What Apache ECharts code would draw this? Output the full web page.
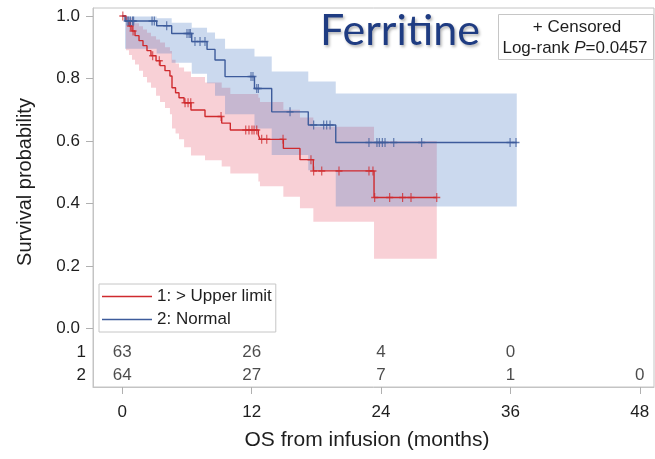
<!DOCTYPE html>
<html>
<head>
<meta charset="utf-8">
<script src="https://cdn.jsdelivr.net/npm/echarts@6/dist/echarts.min.js"></script>
<style>
  html, body { margin: 0; padding: 0; background: #fff; }
  #chart { width: 655px; height: 459px; }
</style>
</head>
<body>
<div id="chart"></div>
<script>
// Kaplan-Meier overall survival by ferritin group (time in months)

// Group 1: ferritin > upper limit — event times and survival after each step
const redT  = [0, 0.34, 0.62, 0.90, 1.18, 1.55, 1.92, 2.29, 2.66, 3.13, 3.50, 3.96, 4.42, 4.61, 4.94, 5.26, 5.73, 6.37, 7.67, 9.22, 10.02, 12.62, 12.77, 14.94, 16.48, 17.72, 23.35];
const redS  = [1, 0.984, 0.968, 0.952, 0.937, 0.921, 0.905, 0.889, 0.873, 0.857, 0.841, 0.825, 0.808, 0.770, 0.754, 0.738, 0.722, 0.699, 0.678, 0.657, 0.635, 0.619, 0.605, 0.576, 0.540, 0.504, 0.419];
const redLo = [1, 0.890, 0.875, 0.860, 0.845, 0.825, 0.805, 0.787, 0.770, 0.745, 0.725, 0.705, 0.685, 0.640, 0.624, 0.605, 0.580, 0.553, 0.538, 0.518, 0.496, 0.470, 0.455, 0.421, 0.384, 0.341, 0.223];
const redHi = [1, 0.998, 0.993, 0.985, 0.977, 0.967, 0.957, 0.946, 0.935, 0.925, 0.915, 0.900, 0.888, 0.860, 0.848, 0.835, 0.822, 0.805, 0.787, 0.770, 0.750, 0.738, 0.725, 0.700, 0.675, 0.645, 0.600];
const redEnd = 29.17;
const redCensored = [0.05, 0.75, 1.0, 2.82, 3.43, 5.82, 6.10, 6.35, 9.16, 11.45, 11.75, 12.03, 12.22, 12.47, 12.93, 13.40, 14.91, 17.50, 17.75, 18.50, 20.10, 22.88, 23.25, 23.41, 24.80, 26.00, 26.78, 29.17];

// Group 2: normal ferritin
const blueT  = [0, 0.25, 3.19, 4.58, 6.44, 7.86, 8.60, 9.53, 12.26, 13.86, 17.25, 19.80];
const blueS  = [1, 0.984, 0.969, 0.944, 0.918, 0.893, 0.859, 0.806, 0.768, 0.693, 0.651, 0.595];
const blueLo = [1, 0.895, 0.880, 0.850, 0.815, 0.785, 0.745, 0.685, 0.640, 0.555, 0.506, 0.390];
const blueHi = [1, 0.998, 0.993, 0.978, 0.962, 0.947, 0.927, 0.895, 0.870, 0.822, 0.790, 0.752];
const blueEnd = 36.59;
const blueCensored = [0.45, 0.60, 0.75, 0.95, 1.05, 2.76, 2.97, 4.12, 6.00, 6.19, 6.31, 6.74, 7.21, 7.67, 11.94, 12.12, 12.47, 12.62, 15.56, 17.75, 18.68, 18.96, 19.27, 22.88, 23.62, 23.84, 24.12, 24.37, 25.18, 27.77, 35.97, 36.52];

// Number at risk
const riskTimes = [0, 12, 24, 36, 48];
const riskRed   = [63, 26, 4, 0];
const riskBlue  = [64, 27, 7, 1, 0];

const xTicks = [0, 12, 24, 36, 48];
const yTicks = [0, 0.2, 0.4, 0.6, 0.8, 1.0];

const groupNames = ['1: > Upper limit', '2: Normal'];
const RED = '#cf2a2e';
const BLUE = '#3d5b9b';
const FONT = 'Liberation Sans, Arial, sans-serif';
const TEXT = '#1e1e1e';

// y positions of the two number-at-risk rows (below the 0 line)
const ROW1 = -0.077, ROW2 = -0.151;

function stepLine(T, S, end) {
  const pts = T.map((t, i) => [t, S[i]]);
  pts.push([end, S[S.length - 1]]);
  return pts;
}

function survivalAt(T, S, t) {
  let v = S[0];
  for (let i = 0; i < T.length; i++) { if (T[i] <= t) v = S[i]; }
  return v;
}

function bandSeries(T, lo, hi, end, fill, z) {
  const rows = T.map((t, i) => [t, i + 1 < T.length ? T[i + 1] : end, lo[i], hi[i]]).slice(1);
  return {
    type: 'custom', silent: true, z: z,
    data: rows,
    encode: { x: [0, 1], y: [2, 3] },
    renderItem(params, api) {
      if (params.dataIndex !== 0) return;
      const top = [], bot = [];
      rows.forEach(r => {
        top.push(api.coord([r[0], r[3]]), api.coord([r[1], r[3]]));
        bot.push(api.coord([r[0], r[2]]), api.coord([r[1], r[2]]));
      });
      return { type: 'polygon', shape: { points: top.concat(bot.reverse()) }, style: { fill: fill } };
    }
  };
}

const plusMark = 'path://M-3,0L3,0M0,-4L0,4';

function censorSeries(T, S, times, color) {
  return {
    type: 'scatter', silent: true, z: 5,
    symbol: plusMark, symbolSize: [7, 9],
    itemStyle: { color: 'transparent', borderColor: color, borderWidth: 1.3 },
    data: times.map(t => [t, survivalAt(T, S, t)])
  };
}

function riskSeries(counts, rowY) {
  return {
    type: 'scatter', silent: true, z: 6,
    symbolSize: 1, itemStyle: { color: 'transparent' },
    data: counts.map((n, i) => [riskTimes[i], rowY, n]),
    label: {
      show: true, position: 'inside',
      formatter: p => String(p.data[2]),
      fontSize: 17, fontFamily: FONT, color: TEXT
    }
  };
}

const chart = echarts.init(document.getElementById('chart'), null, { renderer: 'canvas' });

chart.setOption({
  animation: false,
  backgroundColor: '#fff',
  grid: { left: 93, right: 1, top: 8, bottom: 72, show: true, borderColor: '#c4c4c4', borderWidth: 1 },
  xAxis: {
    type: 'value', min: -2.718, max: 49.32,
    axisLine: { show: true, onZero: false, lineStyle: { color: '#c4c4c4' } },
    axisTick: { show: true, customValues: xTicks, length: 7, lineStyle: { color: '#b0b0b0' } },
    axisLabel: { customValues: xTicks, fontSize: 17, fontFamily: FONT, color: TEXT, margin: 17 },
    splitLine: { show: false }
  },
  yAxis: {
    type: 'value', min: -0.188, max: 1.0256,
    axisLine: { show: true, onZero: false, lineStyle: { color: '#c4c4c4' } },
    axisTick: { show: true, customValues: yTicks, length: 7, lineStyle: { color: '#b0b0b0' } },
    axisLabel: { customValues: yTicks, formatter: v => v.toFixed(1), fontSize: 17, fontFamily: FONT, color: TEXT, margin: 13 },
    splitLine: { show: false }
  },
  legend: {
    data: groupNames,
    left: 99, top: 284, orient: 'vertical',
    icon: 'rect', itemWidth: 50, itemHeight: 1.5, itemGap: 6,
    padding: [4, 4, 4, 3],
    borderColor: '#c6c6c6', borderWidth: 1, backgroundColor: '#fff',
    textStyle: { fontSize: 17, fontFamily: FONT, color: TEXT },
    selectedMode: false
  },
  series: [
    bandSeries(redT, redLo, redHi, redEnd, 'rgba(225,60,85,0.24)', 1),
    bandSeries(blueT, blueLo, blueHi, blueEnd, 'rgba(70,120,195,0.28)', 2),
    {
      name: groupNames[0], type: 'line', step: 'end', symbol: 'none', z: 4,
      color: RED, lineStyle: { color: RED, width: 1.4 },
      data: stepLine(redT, redS, redEnd)
    },
    {
      name: groupNames[1], type: 'line', step: 'end', symbol: 'none', z: 4,
      color: BLUE, lineStyle: { color: BLUE, width: 1.4 },
      data: stepLine(blueT, blueS, blueEnd)
    },
    censorSeries(redT, redS, redCensored, RED),
    censorSeries(blueT, blueS, blueCensored, BLUE),
    riskSeries(riskRed, ROW1),
    riskSeries(riskBlue, ROW2)
  ],
  graphic: [
    {
      type: 'text', left: 320, top: 10, z: 10,
      style: {
        text: 'Ferritine', font: '43px Lato, "Open Sans", sans-serif', fill: '#1f3c82',
        textShadowColor: 'rgba(0,0,0,0.3)', textShadowBlur: 3, textShadowOffsetX: 1.5, textShadowOffsetY: 1.5
      }
    },
    {
      type: 'rect', z: 10,
      shape: { x: 498.5, y: 14.5, width: 155, height: 45 },
      style: { fill: '#fff', stroke: '#c6c6c6', lineWidth: 1 }
    },
    {
      type: 'text', z: 11, x: 577, y: 27,
      style: { text: '+ Censored', font: '17px ' + FONT, fill: TEXT, align: 'center', verticalAlign: 'middle' }
    },
    {
      type: 'text', z: 11, x: 575, y: 48.5,
      style: {
        text: 'Log-rank {i|P}=0.0457', font: '17px ' + FONT, fill: TEXT, align: 'center', verticalAlign: 'middle',
        rich: { i: { fontStyle: 'italic', fontSize: 17, fontFamily: FONT, fill: TEXT } }
      }
    },
    {
      type: 'text', z: 11, x: 86, y: 352,
      style: { text: '1', font: '17px ' + FONT, fill: TEXT, align: 'right', verticalAlign: 'middle' }
    },
    {
      type: 'text', z: 11, x: 86, y: 375,
      style: { text: '2', font: '17px ' + FONT, fill: TEXT, align: 'right', verticalAlign: 'middle' }
    },
    {
      type: 'text', z: 11, x: 25, y: 182, rotation: Math.PI / 2,
      style: { text: 'Survival probability', font: '20px ' + FONT, fill: TEXT, align: 'center', verticalAlign: 'middle' }
    },
    {
      type: 'text', z: 11, x: 367, y: 440,
      style: { text: 'OS from infusion (months)', font: '21px ' + FONT, fill: TEXT, align: 'center', verticalAlign: 'middle' }
    }
  ]
});
</script>
</body>
</html>
